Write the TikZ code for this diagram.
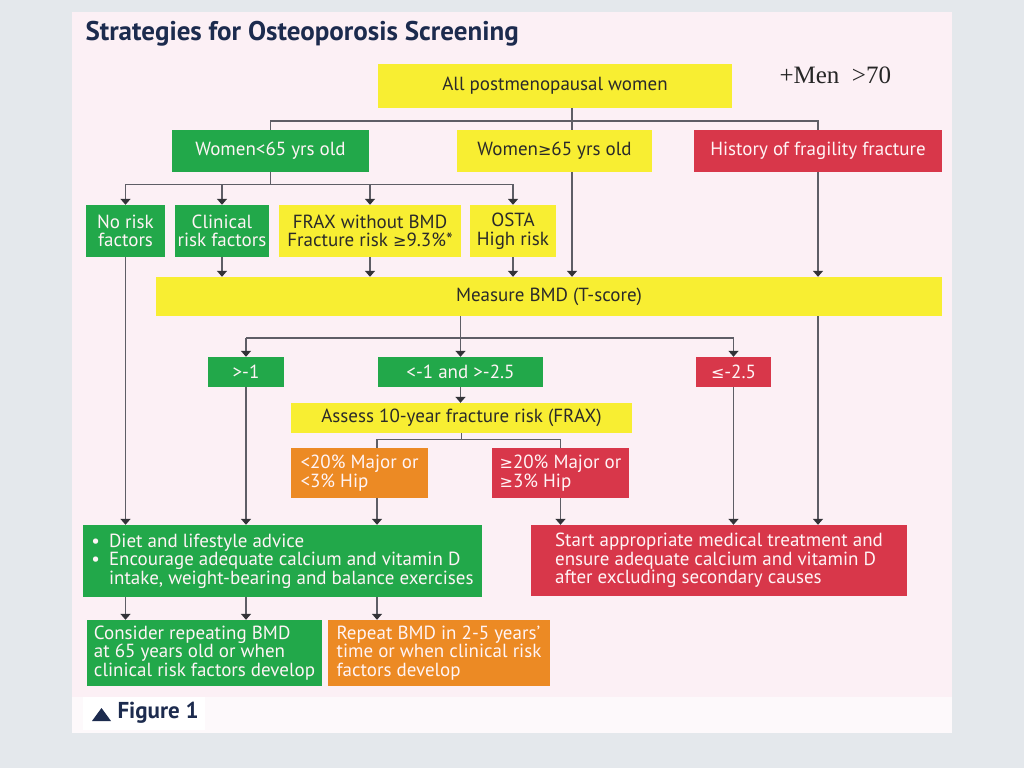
\documentclass[tikz,border=0pt]{standalone}
\usepackage{fontspec}
\setmainfont{PT Sans}
\newfontfamily\timesfont{Liberation Serif}
\newfontfamily\symfont{DejaVu Sans}
\newcommand\gesym{{\symfont\fontsize{16}{16}\selectfont ≥}}
\newcommand\lesym{{\symfont\fontsize{16}{16}\selectfont ≤}}
\usetikzlibrary{arrows.meta,calc}
\definecolor{bgout}{HTML}{E4E8EC}
\definecolor{panel}{HTML}{FCF0F5}
\definecolor{panelw}{HTML}{FDF9FB}
\definecolor{gr}{HTML}{22A84A}
\definecolor{ye}{HTML}{F8EE32}
\definecolor{rd}{HTML}{D8374A}
\definecolor{orng}{HTML}{EC8A24}
\definecolor{navy}{HTML}{1C2B4E}
\definecolor{ln}{HTML}{5E5E66}
\definecolor{ah}{HTML}{333338}
\definecolor{wtxt}{HTML}{FFF4F6}
\definecolor{dtxt}{HTML}{2A2A2A}
\begin{document}
\begin{tikzpicture}[x=1pt,y=-1pt,
 box/.style={inner sep=0pt, align=center, font=\fontsize{19}{18.5}\selectfont},
 gbox/.style={box, fill=gr, text=wtxt},
 ybox/.style={box, fill=ye, text=dtxt},
 rbox/.style={box, fill=rd, text=wtxt},
 obox/.style={box, fill=orng, text=wtxt},
 conn/.style={draw=ln, line width=1.4pt},
 arr/.style={conn, -{Triangle[width=10pt,length=6pt,color=ah]}},
]
\useasboundingbox (0,0) rectangle (1024,768);
\fill[bgout] (0,0) rectangle (1024,768);
\fill[panel] (72,12) rectangle (952,733);
\fill[panelw] (72,697) rectangle (952,733);
\fill[white] (83,697) rectangle (205,730);

\node[anchor=west, text=navy, font=\fontsize{27}{30}\selectfont\bfseries] (title) at (82,34) {Strategies for Osteoporosis Screening};
\node[anchor=west, text=black!85, font=\fontsize{25}{28}\timesfont] (men) at (776,75) {+Men\ \ >70};

% row 1
\node[ybox, minimum width=354, minimum height=44] (allpm) at (555,86) {All postmenopausal women};
\node[gbox, minimum width=197, minimum height=42] (w65l) at (270.5,151) {Women<65 yrs old};
\node[ybox, minimum width=195, minimum height=42] (w65g) at (554.5,151) {Women\gesym65 yrs old};
\node[rbox, minimum width=248, minimum height=42] (hist) at (818,151) {History of fragility fracture};
% row 2
\node[gbox, minimum width=79, minimum height=52] (nrf) at (125.5,231) {No risk\\factors};
\node[gbox, minimum width=94, minimum height=52] (crf) at (222,231) {Clinical\\risk factors};
\node[ybox, minimum width=182, minimum height=52] (frax) at (370,231) {FRAX without BMD\\Fracture risk \gesym9.3\%*};
\node[ybox, minimum width=86, minimum height=52] (osta) at (513,231) {OSTA\\High risk};
% BMD
\node[ybox, minimum width=786, minimum height=39] (bmd) at (549,296.5) {Measure BMD (T-score)};
% T-score
\node[gbox, minimum width=76, minimum height=30] (gt1) at (246,372) {>-1};
\node[gbox, minimum width=165, minimum height=30] (mid) at (460.5,372) {<-1 and >-2.5};
\node[rbox, minimum width=75, minimum height=30] (le25) at (733.5,372) {\lesym-2.5};
\node[ybox, minimum width=341, minimum height=30] (assess) at (461.5,418) {Assess 10-year fracture risk (FRAX)};
\node[obox, minimum width=137, minimum height=50, align=left] (lt20) at (359.5,473) {<20\% Major or\\<3\% Hip};
\node[rbox, minimum width=137, minimum height=50, align=left] (ge20) at (560.5,473) {\gesym20\% Major or\\\gesym3\% Hip};
% outcomes
\node[gbox, minimum width=399, minimum height=72, align=left] (diet) at (282.5,561)
 {\textbullet\hspace{9pt}Diet and lifestyle advice\\
  \textbullet\hspace{9pt}Encourage adequate calcium and vitamin D\\
  \phantom{\textbullet}\hspace{9pt}intake, weight-bearing and balance exercises};
\node[rbox, minimum width=376, minimum height=71, align=left] (start) at (719,560.5)
 {Start appropriate medical treatment and\\ensure adequate calcium and vitamin D\\after excluding secondary causes};
\node[gbox, minimum width=235, minimum height=66, align=left] (cons) at (204.5,653)
 {Consider repeating BMD\\at 65 years old or when\\clinical risk factors develop};
\node[obox, minimum width=222, minimum height=66, align=left] (rep) at (439,653)
 {Repeat BMD in 2-5 years'\\time or when clinical risk\\factors develop};

% figure label
\fill[navy] (92,721) -- (111,721) -- (101.5,708) -- cycle;
\node[anchor=west, text=navy, font=\fontsize{23}{25}\selectfont\bfseries] (fig) at (114,713) {Figure 1};

% connectors top
\coordinate (b1) at (572,121);
\draw[conn] (w65l.north) |- (b1) -| (hist.north);
\draw[conn] ([xshift=17pt]allpm.south) -- ([xshift=17pt]allpm.south |- w65g.north);
\draw[conn] (w65l.south) -- ++(0,12) coordinate (b2);
\draw[conn] (nrf.north |- b2) -- (osta.north |- b2);
\draw[arr] (nrf.north |- b2) -- (nrf.north);
\draw[arr] (crf.north |- b2) -- (crf.north);
\draw[arr] (frax.north |- b2) -- (frax.north);
\draw[arr] (osta.north |- b2) -- (osta.north);
% to BMD
\draw[arr] (crf.south) -- (crf.south |- bmd.north);
\draw[arr] (frax.south) -- (frax.south |- bmd.north);
\draw[arr] (osta.south) -- (osta.south |- bmd.north);
\draw[arr] ([xshift=17.5pt]w65g.south) -- ([xshift=17.5pt]w65g.south |- bmd.north);
\draw[arr] (hist.south) -- (hist.south |- bmd.north);
% BMD split
\coordinate (b3) at (460.5,338);
\draw[conn] (gt1.north |- b3) -- (le25.north |- b3);
\draw[arr] (mid.north |- bmd.south) -- (mid.north);
\draw[arr] (gt1.north |- b3) -- (gt1.north);
\draw[arr] (le25.north |- b3) -- (le25.north);
\draw[arr] (mid.south) -- (mid.south |- assess.north);
% FRAX split
\draw[conn] (assess.south) -- ++(0,6) coordinate (b4);
\draw[conn] ([xshift=17.5pt]lt20.north |- b4) -- (ge20.north |- b4);
\draw[conn] ([xshift=17.5pt]lt20.north |- b4) -- ([xshift=17.5pt]lt20.north);
\draw[conn] (ge20.north |- b4) -- (ge20.north);
% to outcomes
\draw[arr] (nrf.south) -- (nrf.south |- diet.north);
\draw[arr] (gt1.south) -- (gt1.south |- diet.north);
\draw[arr] ([xshift=17.5pt]lt20.south) -- ([xshift=17.5pt]lt20.south |- diet.north);
\draw[arr] (ge20.south) -- (ge20.south |- start.north);
\draw[arr] (le25.south) -- (le25.south |- start.north);
\draw[arr] (hist.south |- bmd.south) -- (hist.south |- start.north);
% diet to follow-up
\draw[arr] (nrf.south |- diet.south) -- (nrf.south |- cons.north);
\draw[arr] (gt1.south |- diet.south) -- (gt1.south |- cons.north);
\draw[arr] ([xshift=17.5pt]lt20.south |- diet.south) -- ([xshift=17.5pt]lt20.south |- rep.north);
\end{tikzpicture}
\end{document}
